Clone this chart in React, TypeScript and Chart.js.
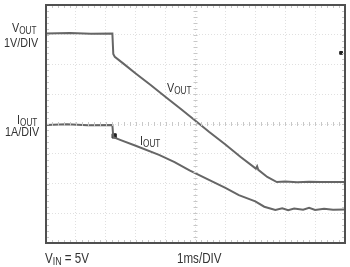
import React, { useEffect, useRef } from "react";
import { Chart, registerables } from "chart.js";

Chart.register(...registerables);

// Oscilloscope: 10 horizontal divisions (1ms/DIV), 8 vertical divisions
const xDivs = [0, 10];
const yDivs = [0, 8];

// V_OUT trace (divisions from bottom)
const voutX = [0, 0.8, 1.5, 2.22, 2.25, 2.3, 2.6, 3.0, 3.5, 4.0, 4.5, 5.05, 5.45, 6.0, 6.5, 7.02, 7.06, 7.1, 7.4, 7.72, 8.0, 8.4, 8.8, 9.2, 9.6, 10];
const voutY = [7.04, 7.06, 7.03, 7.04, 6.35, 6.26, 6.02, 5.7, 5.31, 4.91, 4.51, 4.07, 3.74, 3.31, 2.9, 2.5, 2.58, 2.46, 2.22, 2.05, 2.07, 2.04, 2.06, 2.05, 2.05, 2.05];

// I_OUT trace
const ioutX = [0, 0.7, 1.4, 2.22, 2.25, 2.5, 3.0, 3.78, 4.3, 4.8, 5.45, 6.0, 6.45, 7.0, 7.3, 7.67, 7.9, 8.1, 8.3, 8.6, 8.8, 9.0, 9.3, 9.6, 10];
const ioutY = [3.97, 3.99, 3.96, 3.97, 3.56, 3.46, 3.27, 2.96, 2.72, 2.44, 2.12, 1.85, 1.61, 1.4, 1.22, 1.11, 1.17, 1.1, 1.16, 1.12, 1.18, 1.11, 1.15, 1.12, 1.13];

// trigger / artifact marks
const markX = [2.28, 9.87];
const markY = [3.6, 6.39];

const labels = [
  { main: "V", sub: "OUT", tail: "", x: 12, base: 32, fs: 13.5 },
  { main: "1V/DIV", sub: "", tail: "", x: 4, base: 47, fs: 13.5 },
  { main: "I", sub: "OUT", tail: "", x: 17, base: 124, fs: 13.5 },
  { main: "1A/DIV", sub: "", tail: "", x: 5, base: 136, fs: 13.5 },
  { main: "V", sub: "OUT", tail: "", x: 167, base: 92, fs: 13.5 },
  { main: "I", sub: "OUT", tail: "", x: 140, base: 145, fs: 13.5 },
  { main: "V", sub: "IN", tail: " = 5V", x: 45, base: 263, fs: 14.5 },
  { main: "1ms/DIV", sub: "", tail: "", x: 177, base: 263, fs: 14.5 },
];

const FONT = "'Liberation Sans', Arial, sans-serif";

const framePlugin = {
  id: "frame",
  afterDatasetsDraw(chart: any) {
    const { ctx, chartArea: a, scales } = chart;
    const xs = scales.x;
    const ys = scales.y;
    ctx.save();
    ctx.strokeStyle = "#c8c8c8";
    ctx.lineWidth = 1;
    const cx = xs.getPixelForValue(5);
    const cy = ys.getPixelForValue(4);
    ctx.beginPath();
    for (let v = 0; v <= 10.001; v += 0.2) {
      const px = Math.round(xs.getPixelForValue(v)) + 0.5;
      ctx.moveTo(px, cy - 2);
      ctx.lineTo(px, cy + 2);
      ctx.moveTo(px, a.bottom - 3);
      ctx.lineTo(px, a.bottom);
      ctx.moveTo(px, a.top);
      ctx.lineTo(px, a.top + 3);
    }
    for (let v = 0; v <= 8.001; v += 0.2) {
      const py = Math.round(ys.getPixelForValue(v)) + 0.5;
      ctx.moveTo(cx - 2, py);
      ctx.lineTo(cx + 2, py);
      ctx.moveTo(a.left, py);
      ctx.lineTo(a.left + 3, py);
      ctx.moveTo(a.right - 3, py);
      ctx.lineTo(a.right, py);
    }
    ctx.stroke();
    ctx.strokeStyle = "#505050";
    ctx.lineWidth = 2;
    ctx.strokeRect(a.left, a.top, a.right - a.left, a.bottom - a.top);
    ctx.restore();
  },
};

export default function App() {
  const ref = useRef<HTMLCanvasElement>(null);
  useEffect(() => {
    if (!ref.current) return;
    const chart = new Chart(ref.current, {
      type: "line",
      data: {
        datasets: [
          {
            data: voutX.map((x, i) => ({ x, y: voutY[i] })),
            borderColor: "#666",
            borderWidth: 2,
            pointRadius: 0,
            tension: 0,
          },
          {
            data: ioutX.map((x, i) => ({ x, y: ioutY[i] })),
            borderColor: "#666",
            borderWidth: 2,
            pointRadius: 0,
            tension: 0,
          },
          {
            type: "scatter",
            data: markX.map((x, i) => ({ x, y: markY[i] })),
            backgroundColor: "#222",
            borderColor: "#222",
            pointStyle: "rect",
            pointRadius: [3, 2],
            showLine: false,
          } as any,
        ],
      },
      options: {
        animation: false,
        responsive: false,
        layout: { padding: { left: 46, top: 5, right: 5, bottom: 24 } },
        plugins: { legend: { display: false }, tooltip: { enabled: false } },
        scales: {
          x: {
            type: "linear",
            min: xDivs[0],
            max: xDivs[1],
            ticks: { display: false, stepSize: 1 },
            grid: { color: "#e0e0e0", drawTicks: false },
            border: { display: false, dash: [1, 2] },
          },
          y: {
            type: "linear",
            min: yDivs[0],
            max: yDivs[1],
            ticks: { display: false, stepSize: 1 },
            grid: { color: "#e0e0e0", drawTicks: false },
            border: { display: false, dash: [1, 2] },
          },
        },
      },
      plugins: [framePlugin],
    });
    return () => chart.destroy();
  }, []);

  return (
    <div style={{ position: "absolute", left: 0, top: 0, width: 350, height: 267, background: "#fff" }}>
      <canvas ref={ref} width={350} height={267} style={{ position: "absolute", left: 0, top: 0 }} />
      {labels.map((l, i) => (
        <div
          key={i}
          style={{
            position: "absolute",
            left: l.x,
            top: l.base - 0.85 * l.fs,
            fontFamily: FONT,
            fontSize: l.fs,
            lineHeight: 1,
            color: "#333",
            whiteSpace: "nowrap",
            transform: "scaleX(0.8)",
            transformOrigin: "0 0",
          }}
        >
          {l.main}
          {l.sub ? (
            <span style={{ fontSize: l.fs * 0.76, position: "relative", top: 2 }}>{l.sub}</span>
          ) : null}
          {l.tail}
        </div>
      ))}
    </div>
  );
}
